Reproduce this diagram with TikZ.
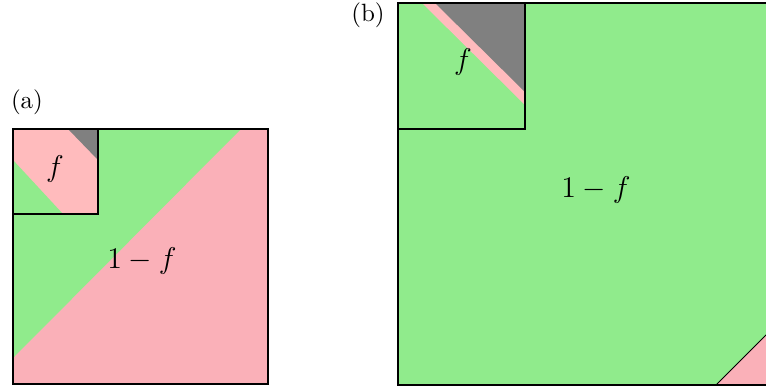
\documentclass[tikz,border=0pt]{standalone}
\usetikzlibrary{calc}
\definecolor{lgreen}{RGB}{144,235,140}
\definecolor{pinkA}{RGB}{250,176,184}
\definecolor{pinkB}{RGB}{255,187,189}
\definecolor{grayC}{RGB}{128,128,128}
\tikzset{
  frame/.style={draw=black, line width=0.45pt},
  lbl/.style={inner sep=0pt, font=\normalsize},
  mlbl/.style={inner sep=0pt, font=\fontsize{11.5}{14}\selectfont}
}
\begin{document}
\begin{tikzpicture}[x=0.4pt, y=-0.4pt]
\clip (0,0) rectangle (766,387);
\fill[white] (0,0) rectangle (766,387);
% ---------- panel (a) ----------
\coordinate (aTL) at (13,129);
\coordinate (aBR) at (268,384);
\fill[pinkA] (aTL) rectangle (aBR);
\fill[lgreen] (13,129) -- (241,129) -- (13,358) -- cycle;
\coordinate (sTL) at (13,129);
\coordinate (sBR) at (98,214);
\fill[pinkB] (sTL) rectangle (sBR);
\fill[lgreen] (13,160) -- (63,214) -- (13,214) -- cycle;
\fill[grayC] (68,129) -- (98,129) -- (98,160) -- cycle;
\draw[frame] (aTL) rectangle (aBR);
\draw[frame] (sTL) rectangle (sBR);
\node[mlbl] (fa) at (55,169) {$f$};
\node[mlbl] (ofa) at (142,261) {$1-f$};
\node[lbl] (la) at (27,102) {(a)};
% ---------- panel (b) ----------
\coordinate (bTL) at (398,3);
\coordinate (bBR) at (780,385);
\fill[lgreen] (bTL) rectangle (bBR);
\fill[pinkA] (716,385) -- (780,385) -- (780,321) -- cycle;
\draw[black, line width=0.4pt] (716,385) -- (780,321);
\coordinate (tTL) at (398,3);
\coordinate (tBR) at (525,129);
\fill[pinkB] (422,3) -- (525,3) -- (525,105) -- cycle;
\fill[grayC] (435,3) -- (525,3) -- (525,92) -- cycle;
\draw[frame] (bTL) rectangle (bBR);
\draw[frame] (tTL) rectangle (tBR);
\node[mlbl] (fb) at (463,62) {$f$};
\node[mlbl] (ofb) at (596,190) {$1-f$};
\node[lbl] (lb) at (368,15) {(b)};
\end{tikzpicture}
\end{document}
